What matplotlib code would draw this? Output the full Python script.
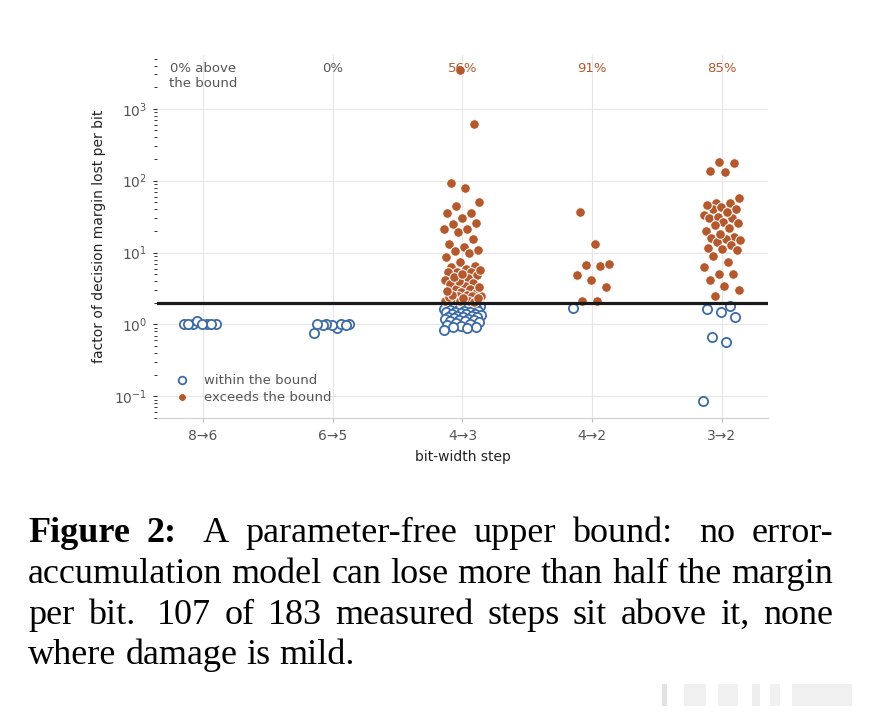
import matplotlib
matplotlib.use("Agg")
import matplotlib.pyplot as plt
import matplotlib.transforms as mtransforms
from matplotlib.lines import Line2D
from matplotlib.patches import Rectangle
import numpy as np

# ---------------- data ----------------
categories = ["8→6", "6→5", "4→3", "4→2", "3→2"]
pct_labels = ["0% above\nthe bound", "0%", "56%", "91%", "85%"]
bound = 2.0

within_86 = [1.0, 1.0, 1.0, 1.0, 1.02, 1.13, 1.03, 1.0]
exceed_86 = []
within_65 = [0.88, 0.99, 1.02, 1.02, 1.01, 0.98, 0.97, 1.0, 0.75]
exceed_65 = []
within_43 = [1.9, 1.85, 1.83, 1.8, 1.78, 1.78, 1.75, 1.72, 1.7, 1.67, 1.65,
             1.62, 1.6, 1.58, 1.55, 1.52, 1.5, 1.47, 1.47, 1.45, 1.42, 1.4,
             1.38, 1.36, 1.33, 1.3, 1.29, 1.27, 1.25, 1.22, 1.21, 1.2, 1.17,
             1.15, 1.12, 1.1, 1.08, 1.05, 1.0, 0.97, 0.94, 0.93, 0.91, 0.88, 0.83]
exceed_43 = [3500, 620, 94, 80, 51, 45, 36, 35, 30, 26, 25, 21.5, 19.5, 21.5,
             15.6, 13.3, 12.1, 10.6, 10.0, 8.8, 7.3, 6.6, 6.4, 6.0, 5.4, 5.3,
             5.3, 4.9, 4.4, 4.2, 3.8, 3.6, 3.4, 3.1, 3.1, 2.8, 2.7, 2.5, 2.6,
             2.45, 2.45, 2.2, 2.15, 2.15, 2.4, 2.05, 2.1, 2.3, 2.35, 2.6, 2.9,
             3.3, 4.0, 4.6, 5.0, 5.8, 11.0]
within_42 = [1.67]
exceed_42 = [37, 13, 6.6, 7.0, 6.8, 4.9, 4.2, 3.3, 2.1, 2.1]
within_32 = [1.78, 1.62, 1.48, 1.25, 0.66, 0.57, 0.087]
exceed_32 = [178, 183, 138, 134, 58, 49, 49, 41, 40, 43, 33, 30, 30, 31, 27,
             24, 20, 16.7, 15.6, 15.8, 15.2, 14.2, 12.9, 11.7, 11, 11.3, 7.3,
             6.4, 5.1, 5.1, 4.1, 3.4, 3.0, 2.5, 46, 37, 22, 26, 18, 9]

within_all = [within_86, within_65, within_43, within_42, within_32]
exceed_all = [exceed_86, exceed_65, exceed_43, exceed_42, exceed_32]

caption_lines = [
    ["Figure", "2:", "A", "parameter-free", "upper", "bound:", "no", "error-"],
    ["accumulation", "model", "can", "lose", "more", "than", "half", "the", "margin"],
    ["per", "bit.", "107", "of", "183", "measured", "steps", "sit", "above", "it,", "none"],
    ["where", "damage", "is", "mild."],
]
n_bold_words = 2

# ---------------- style ----------------
BLUE = "#3d6ba6"
ORANGE = "#b3592d"
GRAY_TXT = "#555555"
GRID = "#e6e6e6"
W, H = 870, 714

fig = plt.figure(figsize=(W / 100, H / 100), dpi=100)
ax = fig.add_axes([157 / W, 1 - 418 / H, (768 - 157) / W, (418 - 55) / H])

# deterministic spread of points around each category
half_width = 0.145
golden = 0.6180339887
for i, (win, exc) in enumerate(zip(within_all, exceed_all)):
    vals = [(v, 0) for v in win] + [(v, 1) for v in exc]
    order = sorted(range(len(vals)), key=lambda k: vals[k][0])
    offs = np.zeros(len(vals))
    for rank, k in enumerate(order):
        offs[k] = (((rank * golden) % 1.0) - 0.5) * 2 * half_width
    xs_w = [i + offs[k] for k in range(len(vals)) if vals[k][1] == 0]
    ys_w = [vals[k][0] for k in range(len(vals)) if vals[k][1] == 0]
    xs_e = [i + offs[k] for k in range(len(vals)) if vals[k][1] == 1]
    ys_e = [vals[k][0] for k in range(len(vals)) if vals[k][1] == 1]
    ax.scatter(xs_w, ys_w, s=44, facecolor="white", edgecolor=BLUE,
               linewidth=1.3, zorder=3)
    ax.scatter(xs_e, ys_e, s=48, facecolor=ORANGE, edgecolor="white",
               linewidth=0.7, zorder=4)

ax.axhline(bound, color="#1a1a1a", lw=2.3, zorder=5)

ax.set_yscale("log")
ax.set_ylim(0.05, 5600)
ax.set_xlim(-0.355, 4.355)
ax.set_xticks(range(len(categories)))
ax.set_xticklabels(categories)
ax.grid(True, which="major", color=GRID, lw=0.8, zorder=0)
ax.set_axisbelow(True)
for s in ["left", "top", "right"]:
    ax.spines[s].set_visible(False)
ax.spines["bottom"].set_color("#d3d3d3")
ax.spines["bottom"].set_linewidth(0.9)
ax.tick_params(axis="x", length=3, width=0.8, color="#bbbbbb",
               labelsize=10, labelcolor=GRAY_TXT, pad=5)
ax.tick_params(axis="y", which="major", length=3, width=0.8, color="#333333",
               labelsize=10, labelcolor=GRAY_TXT, pad=4)
ax.tick_params(axis="y", which="minor", length=2, width=0.7, color="#333333")

ax.set_xlabel("bit-width step", fontsize=10, color="#222222", labelpad=5)
ax.set_ylabel("factor of decision margin lost per bit", fontsize=10,
              color="#222222", labelpad=6)

trans = mtransforms.blended_transform_factory(ax.transData, ax.transAxes)
for i, lab in enumerate(pct_labels):
    col = GRAY_TXT if i < 2 else ORANGE
    ax.text(i, 0.98, lab, transform=trans, ha="center", va="top",
            fontsize=9.5, color=col, zorder=6)

handles = [
    Line2D([], [], ls="none", marker="o", markersize=5.5, markerfacecolor="white",
           markeredgecolor=BLUE, markeredgewidth=1.3),
    Line2D([], [], ls="none", marker="o", markersize=5.5, markerfacecolor=ORANGE,
           markeredgecolor="white", markeredgewidth=0.5),
]
ax.legend(handles, ["within the bound", "exceeds the bound"], loc="lower left",
          bbox_to_anchor=(0.0, 0.005), frameon=False, fontsize=9.5,
          labelcolor=GRAY_TXT, handletextpad=0.7, labelspacing=0.3)

# ---------------- caption (justified) ----------------
renderer = fig.canvas.get_renderer()
x_left, x_right = 28, 833
baselines = [542, 583, 624, 664]
fs = 26
word_idx = 0
for li, words in enumerate(caption_lines):
    widths = []
    props = []
    for w in words:
        bold = word_idx < n_bold_words
        word_idx += 1
        p = dict(fontsize=fs, family="Liberation Serif",
                 weight="bold" if bold else "normal", color="black")
        t = fig.text(0, 0, w, **p)
        widths.append(t.get_window_extent(renderer).width)
        t.remove()
        props.append(p)
    weights = [1.6 if words[k].endswith((":", ".")) else 1.0
               for k in range(len(words) - 1)]
    if li < len(caption_lines) - 1:
        extra = (x_right - x_left) - sum(widths)
        unit = extra / sum(weights)
    else:
        unit = fs * 100 / 72 * 0.25
    x = x_left
    yfig = 1 - baselines[li] / H
    for k, w in enumerate(words):
        fig.text(x / W, yfig, w, ha="left", va="baseline", **props[k])
        x += widths[k]
        if k < len(words) - 1:
            x += unit * weights[k]

# faint blurred watermark blocks at the lower right
for (bx, bw, bc) in [(662, 5, "#e2e2e2"), (684, 22, "#f0f0f0"), (718, 20, "#f1f1f1"),
                     (752, 8, "#eeeeee"), (770, 10, "#f1f1f1"), (792, 60, "#f0f0f0")]:
    fig.patches.append(Rectangle((bx / W, 1 - 706 / H), bw / W, 22 / H,
                                 transform=fig.transFigure, color=bc, lw=0))

fig.savefig("out.png", dpi=100)
